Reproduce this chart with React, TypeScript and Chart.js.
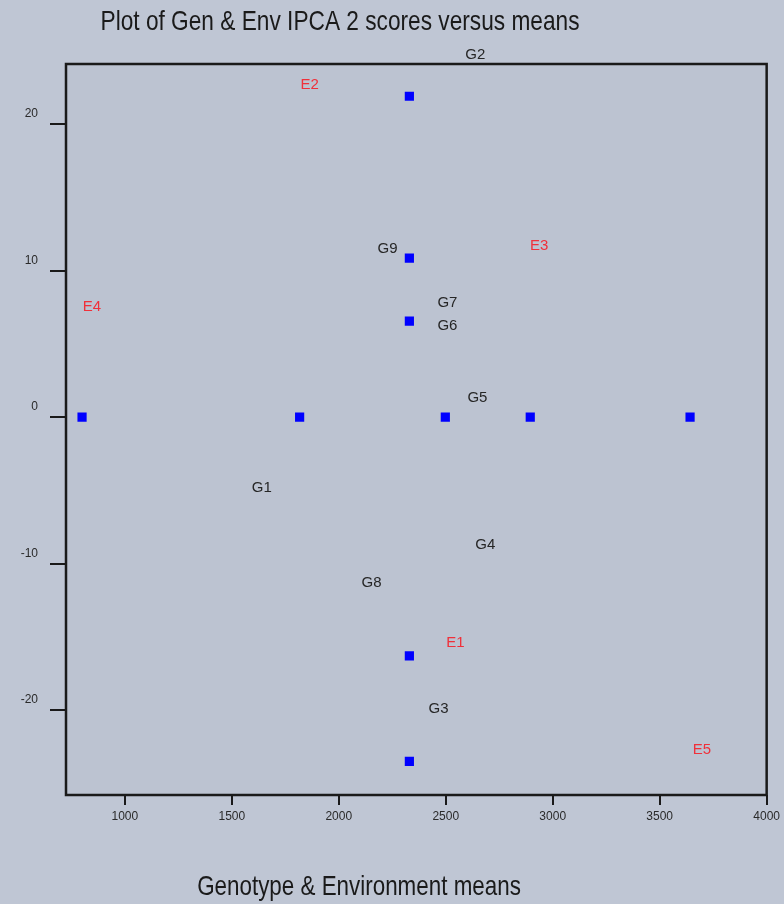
import React, { useEffect, useRef } from "react";
import { Chart, registerables } from "chart.js";

Chart.register(...registerables);

const titleText = "Plot of Gen & Env IPCA 2 scores versus means";
const xAxisTitle = "Genotype & Environment means";

const xTickValues = [1000, 1500, 2000, 2500, 3000, 3500, 4000];
const yTickValues = [-20, -10, 0, 10, 20];

// Blue square markers
const markerX = [2330, 2330, 2330, 800, 1817, 2498, 2895, 3642, 2330, 2330];
const markerY = [21.9, 10.85, 6.55, 0, 0, 0, 0, 0, -16.3, -23.5];

// Genotype labels
const genoNames = ["G1", "G2", "G3", "G4", "G5", "G6", "G7", "G8", "G9"];
const genoX = [1640, 2638, 2466, 2685, 2648, 2508, 2508, 2153, 2228];
const genoY = [-4.8, 24.7, -19.9, -8.7, 1.3, 6.2, 7.8, -11.3, 11.5];

// Environment labels
const envNames = ["E1", "E2", "E3", "E4", "E5"];
const envX = [2545, 1864, 2937, 846, 3697];
const envY = [-15.4, 22.7, 11.7, 7.5, -22.7];

const BG = "#bfc6d4";
const PLOT_BG = "#bcc3d1";

const decorPlugin = {
  id: "decor",
  beforeDraw(chart: any) {
    const { ctx, chartArea } = chart;
    ctx.save();
    ctx.fillStyle = BG;
    ctx.fillRect(0, 0, chart.width, chart.height);
    ctx.fillStyle = PLOT_BG;
    ctx.fillRect(chartArea.left, chartArea.top, chartArea.right - chartArea.left, chartArea.bottom - chartArea.top);
    ctx.restore();
  },
  afterDraw(chart: any) {
    const { ctx, chartArea, scales } = chart;
    const xs = scales.x;
    const ys = scales.y;
    ctx.save();
    // plot box
    ctx.strokeStyle = "#1a1a1a";
    ctx.lineWidth = 2.5;
    ctx.strokeRect(chartArea.left, chartArea.top, chartArea.right - chartArea.left, chartArea.bottom - chartArea.top);

    // point labels
    ctx.textAlign = "center";
    ctx.textBaseline = "middle";
    ctx.font = "15px 'Liberation Sans', Arial, sans-serif";
    ctx.fillStyle = "#262626";
    genoNames.forEach((n, i) => {
      ctx.fillText(n, xs.getPixelForValue(genoX[i]), ys.getPixelForValue(genoY[i]));
    });
    ctx.fillStyle = "#f0303a";
    envNames.forEach((n, i) => {
      ctx.fillText(n, xs.getPixelForValue(envX[i]), ys.getPixelForValue(envY[i]));
    });

    // title and axis title (condensed)
    ctx.fillStyle = "#1a1a1a";
    const drawCondensed = (text: string, cx: number, cy: number, size: number, sx: number) => {
      ctx.save();
      ctx.translate(cx, cy);
      ctx.scale(sx, 1);
      ctx.font = `${size}px 'Liberation Sans', Arial, sans-serif`;
      ctx.textAlign = "center";
      ctx.textBaseline = "middle";
      ctx.fillText(text, 0, 0);
      ctx.restore();
    };
    drawCondensed(titleText, 340, 22, 28, 0.81);
    drawCondensed(xAxisTitle, 359, 887, 28, 0.8);
    ctx.restore();
  },
};

export default function App() {
  const canvasRef = useRef<HTMLCanvasElement | null>(null);

  useEffect(() => {
    if (!canvasRef.current) return;
    const chart = new Chart(canvasRef.current, {
      type: "scatter",
      data: {
        datasets: [
          {
            label: "Markers",
            data: markerX.map((x, i) => ({ x, y: markerY[i] })),
            backgroundColor: "#0000ff",
            borderColor: "#0000ff",
            pointStyle: "rect",
            pointRadius: 6.5,
            pointHoverRadius: 6.5,
            borderWidth: 0,
          },
        ],
      },
      options: {
        animation: false,
        responsive: false,
        maintainAspectRatio: false,
        layout: { padding: { top: 64, right: 16, bottom: 0, left: 0 } },
        plugins: {
          legend: { display: false },
          title: { display: false },
          tooltip: { enabled: false },
        },
        scales: {
          x: {
            type: "linear",
            min: 725,
            max: 4000,
            afterBuildTicks: (scale: any) => {
              scale.ticks = xTickValues.map((v) => ({ value: v }));
            },
            afterFit: (scale: any) => {
              scale.height = 109;
            },
            border: { display: false },
            grid: {
              display: true,
              drawOnChartArea: false,
              drawTicks: true,
              tickLength: 10,
              color: "#1a1a1a",
              lineWidth: 2,
            },
            ticks: {
              color: "#2a2a2a",
              padding: 4,
              autoSkip: false,
              maxRotation: 0,
              font: { family: "'Liberation Sans', Arial, sans-serif", size: 12 },
              callback: (v: any) => String(v),
            },
          },
          y: {
            type: "linear",
            min: -25.8,
            max: 24.1,
            afterBuildTicks: (scale: any) => {
              scale.ticks = yTickValues.map((v) => ({ value: v }));
            },
            afterFit: (scale: any) => {
              scale.width = 66;
            },
            border: { display: false },
            grid: {
              display: true,
              drawOnChartArea: false,
              drawTicks: true,
              tickLength: 16,
              color: "#1a1a1a",
              lineWidth: 2,
            },
            ticks: {
              color: "#2a2a2a",
              padding: 12,
              labelOffset: -10,
              autoSkip: false,
              font: { family: "'Liberation Sans', Arial, sans-serif", size: 12 },
              callback: (v: any) => String(v),
            },
          },
        },
      },
      plugins: [decorPlugin],
    });
    return () => chart.destroy();
  }, []);

  return (
    <div style={{ position: "absolute", left: 0, top: 0, width: 784, height: 904, background: BG }}>
      <canvas ref={canvasRef} width={784} height={904} style={{ display: "block", width: 784, height: 904 }} />
    </div>
  );
}
